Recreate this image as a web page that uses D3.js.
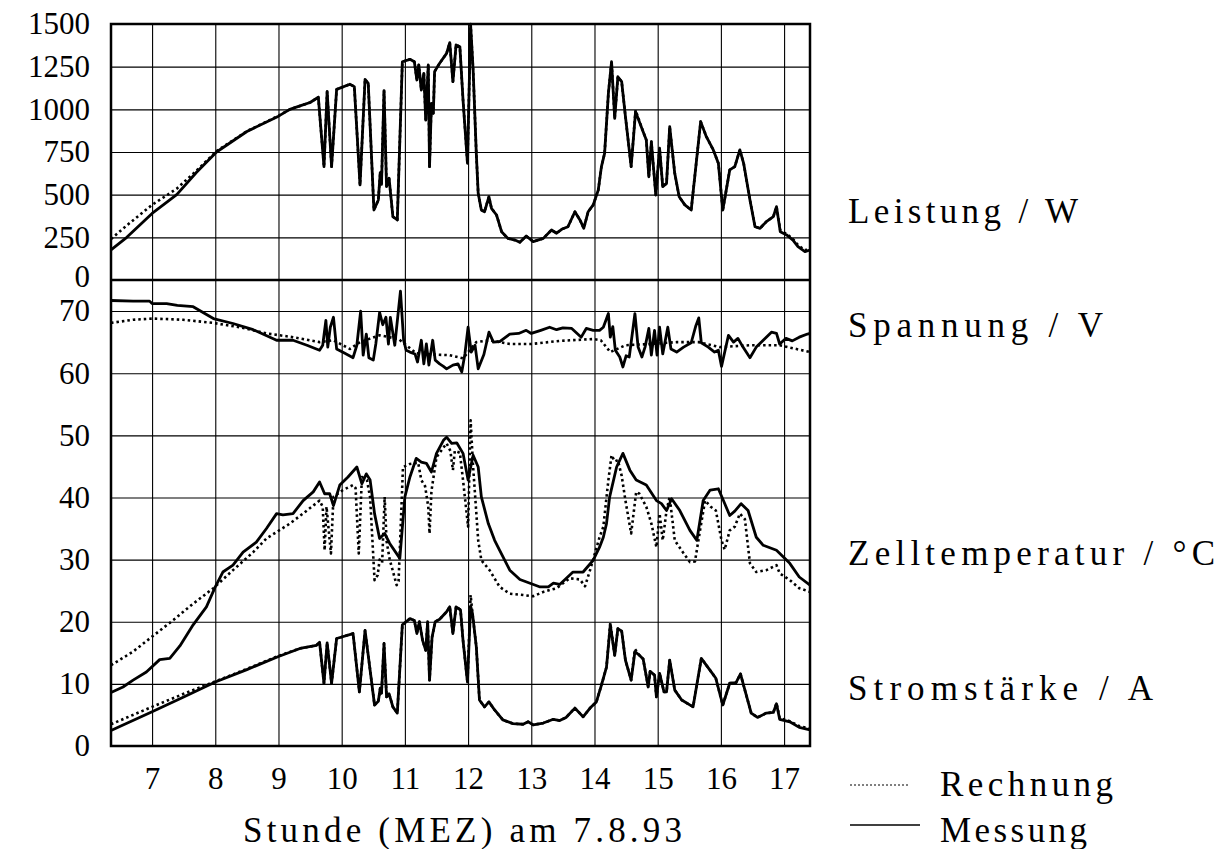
<!DOCTYPE html>
<html>
<head>
<meta charset="utf-8">
<script src="https://cdn.jsdelivr.net/npm/d3@7"></script>
<style>
  body { margin: 0; background: #fff; }
  text { font-family: 'Liberation Serif', serif; fill: #000; }
</style>
</head>
<body>
<div id="chart"></div>
<script>
// Stunden auf der x-Achse
const hourTicks = [7, 8, 9, 10, 11, 12, 13, 14, 15, 16, 17];
const powerTicks = [0, 250, 500, 750, 1000, 1250, 1500];
const lowerTicks = [0, 10, 20, 30, 40, 50, 60, 70];

// Leistung / W  [Stunde, Wert]
const pMess = [[6.35,176],[6.6,250],[7.0,390],[7.39,500],[7.7,630],[8.02,750],[8.5,870],[9.0,960],[9.18,1000],[9.34,1020],[9.5,1040],[9.63,1071],[9.72,664],[9.77,1104],[9.84,664],[9.92,1117],[10.13,1147],[10.2,1133],[10.29,557],[10.37,1176],[10.42,1152],[10.51,410],[10.58,469],[10.61,629],[10.63,560],[10.67,1110],[10.71,547],[10.75,596],[10.81,371],[10.88,352],[10.96,1279],[11.08,1293],[11.15,1279],[11.19,1172],[11.22,1260],[11.26,1113],[11.3,1211],[11.33,937],[11.37,1260],[11.39,664],[11.42,1035],[11.45,977],[11.47,1221],[11.55,1270],[11.66,1328],[11.71,1391],[11.76,1162],[11.81,1377],[11.87,1367],[11.92,1055],[11.99,684],[12.04,1494],[12.08,1230],[12.13,742],[12.16,508],[12.21,410],[12.26,400],[12.33,488],[12.37,420],[12.45,381],[12.53,283],[12.63,244],[12.74,234],[12.82,221],[12.92,258],[13.03,225],[13.19,244],[13.32,293],[13.4,274],[13.48,297],[13.58,312],[13.69,400],[13.77,352],[13.83,303],[13.9,400],[13.98,440],[14.06,527],[14.11,664],[14.16,742],[14.22,1094],[14.27,1279],[14.32,947],[14.37,1191],[14.43,1162],[14.49,957],[14.58,664],[14.65,986],[14.77,869],[14.82,820],[14.86,605],[14.9,810],[14.97,498],[15.03,772],[15.08,547],[15.14,566],[15.19,898],[15.27,625],[15.34,488],[15.43,440],[15.53,410],[15.68,928],[15.77,840],[15.88,762],[15.96,684],[16.03,410],[16.14,645],[16.22,664],[16.3,762],[16.36,684],[16.46,469],[16.54,312],[16.62,303],[16.72,342],[16.83,371],[16.88,430],[16.94,283],[17.04,264],[17.14,234],[17.22,195],[17.33,166],[17.41,176]];
const pRech = [[6.35,240],[6.6,320],[7.0,440],[7.39,535],[7.7,640],[8.02,755],[8.5,872],[9.0,962],[9.18,1000],[9.34,1020],[9.5,1040],[9.63,1071],[9.72,664],[9.77,1104],[9.84,664],[9.92,1117],[10.13,1147],[10.2,1133],[10.29,557],[10.37,1176],[10.42,1152],[10.51,410],[10.58,469],[10.61,629],[10.63,560],[10.67,1110],[10.71,547],[10.75,596],[10.81,371],[10.88,352],[10.96,1279],[11.08,1293],[11.15,1279],[11.19,1172],[11.22,1260],[11.26,1113],[11.3,1211],[11.33,937],[11.37,1260],[11.39,664],[11.42,1035],[11.45,977],[11.47,1221],[11.55,1270],[11.66,1328],[11.71,1391],[11.76,1162],[11.81,1377],[11.87,1367],[11.92,1055],[11.99,684],[12.04,1500],[12.08,1230],[12.13,742],[12.16,508],[12.21,410],[12.26,400],[12.33,488],[12.37,420],[12.45,381],[12.53,283],[12.63,244],[12.74,234],[12.82,221],[12.92,258],[13.03,225],[13.19,244],[13.32,293],[13.4,274],[13.48,297],[13.58,312],[13.69,400],[13.77,352],[13.83,303],[13.9,400],[13.98,440],[14.06,527],[14.11,664],[14.16,742],[14.22,1094],[14.27,1279],[14.32,947],[14.37,1191],[14.43,1162],[14.49,957],[14.58,664],[14.65,995],[14.77,869],[14.82,820],[14.86,605],[14.9,810],[14.97,498],[15.03,772],[15.08,547],[15.14,566],[15.19,898],[15.27,625],[15.34,488],[15.43,440],[15.53,410],[15.68,928],[15.77,840],[15.88,762],[15.96,684],[16.03,410],[16.14,645],[16.22,664],[16.3,762],[16.36,684],[16.46,469],[16.54,312],[16.62,303],[16.72,342],[16.83,371],[16.88,430],[16.94,290],[17.04,270],[17.14,240],[17.22,205],[17.33,175],[17.41,180]];

// Spannung / V
const uMess = [[6.35,71.7],[6.7,71.6],[6.96,71.6],[7.0,71.2],[7.23,71.2],[7.4,70.9],[7.65,70.7],[7.97,68.8],[8.28,68.0],[8.6,67.0],[8.97,65.3],[9.23,65.3],[9.45,64.5],[9.65,63.7],[9.7,64.5],[9.75,68.5],[9.78,64.2],[9.82,67.4],[9.87,69.0],[9.92,63.9],[10.05,63.2],[10.18,62.5],[10.24,64.5],[10.3,70.0],[10.34,62.9],[10.39,66.3],[10.43,62.5],[10.5,62.1],[10.54,64.7],[10.6,69.8],[10.65,67.8],[10.7,69.0],[10.74,64.7],[10.77,69.0],[10.84,64.5],[10.93,73.2],[10.98,65.3],[11.02,63.7],[11.08,63.4],[11.16,63.1],[11.2,61.8],[11.26,65.3],[11.3,61.5],[11.34,64.7],[11.38,61.3],[11.44,65.3],[11.48,62.1],[11.55,61.5],[11.61,61.1],[11.66,60.7],[11.76,61.3],[11.84,61.5],[11.9,60.2],[11.95,63.1],[12.0,67.4],[12.05,63.4],[12.11,64.5],[12.16,60.7],[12.25,63.0],[12.33,66.6],[12.4,65.0],[12.5,65.1],[12.66,66.3],[12.8,66.4],[12.92,66.9],[13.0,66.4],[13.15,66.9],[13.29,67.4],[13.4,67.0],[13.5,67.3],[13.64,67.2],[13.79,65.8],[13.87,67.2],[13.98,66.9],[14.08,66.9],[14.14,67.4],[14.22,69.6],[14.25,65.8],[14.29,67.5],[14.33,63.7],[14.4,62.6],[14.45,61.0],[14.5,62.8],[14.55,62.6],[14.64,69.6],[14.69,64.2],[14.75,62.6],[14.8,64.2],[14.86,67.2],[14.9,62.9],[14.95,66.9],[14.99,62.9],[15.03,67.4],[15.08,63.1],[15.16,67.4],[15.21,63.9],[15.3,63.4],[15.41,64.2],[15.53,64.9],[15.6,67.5],[15.65,68.9],[15.69,64.9],[15.8,64.2],[15.9,63.4],[15.96,63.7],[16.01,61.1],[16.12,66.1],[16.2,65.0],[16.27,65.6],[16.35,64.2],[16.46,62.5],[16.56,64.2],[16.67,65.3],[16.8,66.6],[16.88,66.4],[16.93,64.7],[17.03,65.6],[17.13,65.2],[17.24,65.8],[17.37,66.3],[17.41,66.4]];
const uRech = [[6.35,68.1],[6.7,68.6],[7.01,68.8],[7.49,68.6],[7.96,68.1],[8.39,67.4],[8.81,66.4],[9.23,65.8],[9.65,65.0],[9.87,65.3],[10.13,63.9],[10.29,65.0],[10.6,66.1],[10.9,65.5],[11.18,63.2],[11.45,63.0],[11.71,62.9],[11.92,62.4],[12.13,65.0],[12.34,65.3],[12.66,64.7],[13.0,64.7],[13.45,65.2],[13.98,65.5],[14.1,65.3],[14.25,63.4],[14.49,64.5],[14.88,64.7],[15.3,65.0],[15.65,65.0],[15.98,64.2],[16.46,64.5],[16.93,64.5],[17.41,63.4]];

// Zelltemperatur / °C
const tMess = [[6.35,8.6],[6.54,9.5],[6.7,10.6],[6.91,11.9],[7.12,13.9],[7.28,14.1],[7.44,16.1],[7.65,19.5],[7.86,22.4],[8.0,25.6],[8.12,28.0],[8.28,29.1],[8.44,31.2],[8.65,32.8],[8.81,35.0],[8.97,37.4],[9.07,37.2],[9.23,37.4],[9.39,39.5],[9.55,40.9],[9.65,42.5],[9.73,40.6],[9.81,40.6],[9.87,38.7],[9.97,42.0],[10.1,43.3],[10.24,44.9],[10.32,42.2],[10.39,43.8],[10.45,42.8],[10.52,37.4],[10.6,33.4],[10.68,34.2],[10.76,32.6],[10.92,30.2],[11.0,40.1],[11.08,43.3],[11.18,46.3],[11.26,45.7],[11.34,45.5],[11.42,44.1],[11.5,47.1],[11.61,49.2],[11.66,49.7],[11.74,48.7],[11.82,48.8],[11.92,47.1],[12.0,42.8],[12.08,46.8],[12.16,44.9],[12.21,40.1],[12.32,35.8],[12.42,33.1],[12.5,31.5],[12.66,28.3],[12.82,26.8],[12.98,26.2],[13.14,25.6],[13.27,25.6],[13.35,26.2],[13.45,26.0],[13.66,28.0],[13.82,28.0],[13.98,29.9],[14.08,32.0],[14.14,33.6],[14.19,35.8],[14.24,40.1],[14.35,44.9],[14.45,47.1],[14.56,44.4],[14.66,42.8],[14.82,42.0],[14.98,39.5],[15.06,39.0],[15.14,37.9],[15.22,39.8],[15.35,37.9],[15.51,34.7],[15.62,33.1],[15.72,39.5],[15.83,41.2],[15.96,41.4],[16.04,39.5],[16.14,37.1],[16.22,37.8],[16.32,39.0],[16.43,37.9],[16.56,33.6],[16.67,32.3],[16.88,31.5],[17.09,29.4],[17.24,27.2],[17.41,25.9]];
const tRech = [[6.35,13.0],[6.7,15.2],[7.0,17.6],[7.34,20.3],[7.65,22.9],[7.97,25.4],[8.28,28.3],[8.6,31.2],[8.81,33.4],[9.18,35.8],[9.4,37.5],[9.65,39.5],[9.7,38.5],[9.73,31.5],[9.76,38.5],[9.83,31.0],[9.87,40.1],[10.02,41.2],[10.18,42.0],[10.22,41.5],[10.27,31.0],[10.32,43.3],[10.4,42.8],[10.45,40.0],[10.52,26.7],[10.57,27.5],[10.6,30.0],[10.64,29.5],[10.68,40.1],[10.71,33.0],[10.76,30.0],[10.87,25.9],[10.9,26.5],[10.97,44.9],[11.08,45.4],[11.21,45.6],[11.26,42.8],[11.32,41.8],[11.37,38.5],[11.39,34.2],[11.42,41.0],[11.5,46.5],[11.66,48.7],[11.72,47.5],[11.76,44.4],[11.79,47.5],[11.87,47.2],[11.92,42.8],[12.0,35.3],[12.04,52.4],[12.08,44.9],[12.16,33.1],[12.21,29.9],[12.34,28.3],[12.5,25.6],[12.66,24.5],[12.87,24.3],[13.03,24.1],[13.19,24.8],[13.4,25.4],[13.61,27.0],[13.77,26.8],[13.85,25.7],[13.93,28.3],[14.08,33.6],[14.14,35.3],[14.22,42.8],[14.27,46.8],[14.32,45.8],[14.37,46.0],[14.43,43.5],[14.49,39.5],[14.58,34.2],[14.66,40.9],[14.71,40.6],[14.82,38.5],[14.9,35.8],[14.98,32.0],[15.03,37.4],[15.08,33.1],[15.14,37.9],[15.19,40.1],[15.27,33.1],[15.41,31.0],[15.51,29.6],[15.59,29.7],[15.67,34.7],[15.75,39.5],[15.84,38.5],[15.92,37.9],[16.01,33.1],[16.06,31.6],[16.14,34.7],[16.22,35.3],[16.3,37.4],[16.38,36.5],[16.46,29.4],[16.56,28.0],[16.72,28.3],[16.88,29.1],[16.93,27.8],[17.09,26.7],[17.24,25.4],[17.41,24.8]];

// Stromstärke / A
const iMess = [[6.35,2.5],[7.0,5.5],[7.5,7.9],[8.0,10.3],[8.5,12.3],[9.0,14.4],[9.34,15.7],[9.6,16.2],[9.65,16.7],[9.72,10.1],[9.77,16.6],[9.84,10.1],[9.92,17.3],[10.18,18.1],[10.28,8.7],[10.37,18.6],[10.52,6.6],[10.58,7.2],[10.61,9.3],[10.63,8.5],[10.67,16.5],[10.71,7.9],[10.75,8.4],[10.81,6.3],[10.88,5.3],[10.96,19.5],[11.08,20.5],[11.15,20.2],[11.19,18.1],[11.23,20.0],[11.28,17.0],[11.33,15.4],[11.36,20.0],[11.39,10.6],[11.43,17.5],[11.48,20.0],[11.55,20.4],[11.66,21.6],[11.71,22.4],[11.76,18.1],[11.81,22.4],[11.88,21.9],[11.92,17.0],[11.99,10.3],[12.04,22.5],[12.07,21.3],[12.13,16.0],[12.18,7.4],[12.26,6.3],[12.33,7.1],[12.42,5.8],[12.55,4.2],[12.71,3.6],[12.87,3.5],[12.95,3.9],[13.03,3.4],[13.19,3.7],[13.35,4.3],[13.45,4.1],[13.55,4.6],[13.69,6.1],[13.82,4.7],[13.93,6.1],[14.03,7.1],[14.11,9.8],[14.19,12.7],[14.25,19.5],[14.32,14.6],[14.37,18.9],[14.43,18.5],[14.49,13.8],[14.58,10.6],[14.64,15.2],[14.71,14.6],[14.77,14.0],[14.85,9.5],[14.88,12.0],[14.95,11.4],[14.98,7.9],[15.03,11.7],[15.1,8.7],[15.14,8.7],[15.19,13.8],[15.27,9.0],[15.38,7.4],[15.56,6.3],[15.69,14.1],[15.85,11.9],[15.92,10.9],[16.03,6.6],[16.14,10.1],[16.24,10.2],[16.31,11.6],[16.38,9.0],[16.48,5.3],[16.58,4.6],[16.72,5.3],[16.83,5.4],[16.88,6.8],[16.93,4.3],[17.09,3.9],[17.24,3.0],[17.41,2.6]];
const iRech = [[6.35,3.5],[7.0,6.3],[7.5,8.4],[8.0,10.4],[8.5,12.4],[9.0,14.5],[9.34,15.7],[9.6,16.2],[9.65,16.7],[9.72,10.1],[9.77,16.6],[9.84,10.1],[9.92,17.3],[10.18,18.1],[10.28,8.7],[10.37,18.6],[10.52,6.6],[10.58,7.2],[10.61,9.3],[10.63,8.5],[10.67,16.5],[10.71,7.9],[10.75,8.4],[10.81,6.3],[10.88,5.3],[10.96,19.5],[11.08,20.5],[11.15,20.2],[11.19,18.1],[11.23,20.0],[11.28,17.0],[11.33,15.4],[11.36,20.0],[11.39,10.6],[11.43,17.5],[11.48,20.0],[11.55,20.4],[11.66,21.6],[11.71,22.4],[11.76,18.1],[11.81,22.4],[11.88,21.9],[11.92,17.0],[11.99,10.3],[12.04,24.3],[12.07,21.3],[12.13,16.0],[12.18,7.4],[12.26,6.3],[12.33,7.1],[12.42,5.8],[12.55,4.2],[12.71,3.6],[12.87,3.5],[12.95,3.9],[13.03,3.4],[13.19,3.7],[13.35,4.3],[13.45,4.1],[13.55,4.6],[13.69,6.1],[13.82,4.7],[13.93,6.1],[14.03,7.1],[14.11,9.8],[14.19,12.7],[14.25,19.8],[14.32,14.6],[14.37,18.9],[14.43,18.5],[14.49,13.8],[14.58,10.6],[14.64,15.6],[14.71,14.6],[14.77,14.0],[14.85,9.5],[14.88,12.0],[14.95,11.4],[14.98,7.9],[15.03,11.7],[15.1,8.7],[15.14,8.7],[15.19,13.8],[15.27,9.0],[15.38,7.4],[15.56,6.3],[15.69,14.1],[15.85,11.9],[15.92,10.9],[16.03,6.6],[16.14,10.1],[16.24,10.2],[16.31,11.6],[16.38,9.0],[16.48,5.3],[16.58,4.6],[16.72,5.3],[16.83,5.4],[16.88,6.9],[16.93,4.5],[17.09,4.0],[17.24,3.2],[17.41,2.8]];

const seriesLabels = ['Leistung / W', 'Spannung / V', 'Zelltemperatur / °C', 'Stromstärke / A'];
const legendLabels = ['Rechnung', 'Messung'];

const width = 1228;
const height = 849;
const plotLeft = 111;
const plotRight = 810;
const plotTop = 24;
const plotMid = 280;
const plotBottom = 746;
const fontFamily = "'Liberation Serif', serif";

const svg = d3.select('#chart').append('svg')
  .attr('width', width)
  .attr('height', height);

const x = d3.scaleLinear().domain([6.35, 17.41]).range([plotLeft, plotRight]);
const yP = d3.scaleLinear().domain([0, 1500]).range([plotMid, plotTop]);
const yL = d3.scaleLinear().domain([0, 75]).range([plotBottom, plotMid]);

// Gitter
const grid = svg.append('g').attr('class', 'grid');
grid.append('g')
  .attr('transform', `translate(0,${plotBottom})`)
  .call(d3.axisBottom(x).tickValues(hourTicks).tickSize(-(plotBottom - plotTop)).tickFormat(''));
grid.append('g')
  .attr('transform', `translate(${plotLeft},0)`)
  .call(d3.axisLeft(yP).tickValues(powerTicks.slice(1, -1)).tickSize(-(plotRight - plotLeft)).tickFormat(''));
grid.append('g')
  .attr('transform', `translate(${plotLeft},0)`)
  .call(d3.axisLeft(yL).tickValues(lowerTicks.slice(1)).tickSize(-(plotRight - plotLeft)).tickFormat(''));
grid.selectAll('.domain').remove();
grid.selectAll('line').style('stroke', '#000').style('stroke-width', 1.1);

// Achsenbeschriftung
const labelAxis = (g) => {
  g.select('.domain').remove();
  g.selectAll('text')
    .style('font-family', fontFamily)
    .style('font-size', '31px')
    .style('fill', '#000');
};
svg.append('g')
  .attr('class', 'axis-power')
  .attr('transform', `translate(${plotLeft},0)`)
  .call(d3.axisLeft(yP).tickValues(powerTicks).tickSize(0).tickPadding(21).tickFormat(d3.format('d')))
  .call(labelAxis);
// die Null der oberen Skala sitzt knapp über der Trennlinie
svg.selectAll('.axis-power text')
  .filter(d => d === 0)
  .attr('dy', '0.2em');
svg.append('g')
  .attr('transform', `translate(${plotLeft},0)`)
  .call(d3.axisLeft(yL).tickValues(lowerTicks).tickSize(0).tickPadding(21).tickFormat(d3.format('d')))
  .call(labelAxis);
svg.append('g')
  .attr('transform', `translate(0,${plotBottom})`)
  .call(d3.axisBottom(x).tickValues(hourTicks).tickSize(0).tickPadding(21).tickFormat(d3.format('d')))
  .call(labelAxis);

const lineP = d3.line().x(d => x(d[0])).y(d => yP(d[1]));
const lineL = d3.line().x(d => x(d[0])).y(d => yL(d[1]));

const curves = [
  { data: pRech, line: lineP, calc: true },
  { data: uRech, line: lineL, calc: true },
  { data: tRech, line: lineL, calc: true },
  { data: iRech, line: lineL, calc: true },
  { data: pMess, line: lineP, calc: false },
  { data: uMess, line: lineL, calc: false },
  { data: tMess, line: lineL, calc: false },
  { data: iMess, line: lineL, calc: false },
];

svg.selectAll('.curve')
  .data(curves)
  .enter().append('path')
  .attr('class', 'curve')
  .attr('d', d => d.line(d.data))
  .style('fill', 'none')
  .style('stroke', '#000')
  .style('stroke-width', d => d.calc ? 2.6 : 2.8)
  .style('stroke-dasharray', d => d.calc ? '2.5,3' : null)
  .style('stroke-linejoin', 'round');

// Rahmen
svg.append('rect')
  .attr('x', plotLeft)
  .attr('y', plotTop)
  .attr('width', plotRight - plotLeft)
  .attr('height', plotBottom - plotTop)
  .style('fill', 'none')
  .style('stroke', '#000')
  .style('stroke-width', 2.5);
svg.append('line')
  .attr('x1', plotLeft).attr('x2', plotRight)
  .attr('y1', plotMid).attr('y2', plotMid)
  .style('stroke', '#000')
  .style('stroke-width', 2.5);

// Titel der x-Achse
svg.append('text')
  .attr('x', 243)
  .attr('y', 842)
  .attr('textLength', 439)
  .attr('lengthAdjust', 'spacing')
  .style('font-family', fontFamily)
  .style('font-size', '35px')
  .text('Stunde (MEZ) am 7.8.93');

// Bezeichnung der Kurven
const labelPos = [[223, 230], [337, 255], [565, 367], [700, 305]];
svg.selectAll('.series-label')
  .data(seriesLabels)
  .enter().append('text')
  .attr('class', 'series-label')
  .attr('x', 848)
  .attr('y', (d, i) => labelPos[i][0])
  .attr('textLength', (d, i) => labelPos[i][1])
  .attr('lengthAdjust', 'spacing')
  .style('font-family', fontFamily)
  .style('font-size', '35px')
  .text(d => d);

// Legende
const legend = svg.append('g').attr('class', 'legend');
legend.append('line')
  .attr('x1', 850).attr('x2', 910)
  .attr('y1', 785).attr('y2', 785)
  .style('stroke', '#000')
  .style('stroke-width', 1)
  .style('stroke-dasharray', '2,2');
legend.append('line')
  .attr('x1', 850).attr('x2', 920)
  .attr('y1', 825).attr('y2', 825)
  .style('stroke', '#000')
  .style('stroke-width', 1.5);
legend.selectAll('text')
  .data(legendLabels)
  .enter().append('text')
  .attr('x', 940)
  .attr('y', (d, i) => [796, 842][i])
  .attr('textLength', (d, i) => [173, 147][i])
  .attr('lengthAdjust', 'spacing')
  .style('font-family', fontFamily)
  .style('font-size', '35px')
  .text(d => d);
</script>
</body>
</html>
